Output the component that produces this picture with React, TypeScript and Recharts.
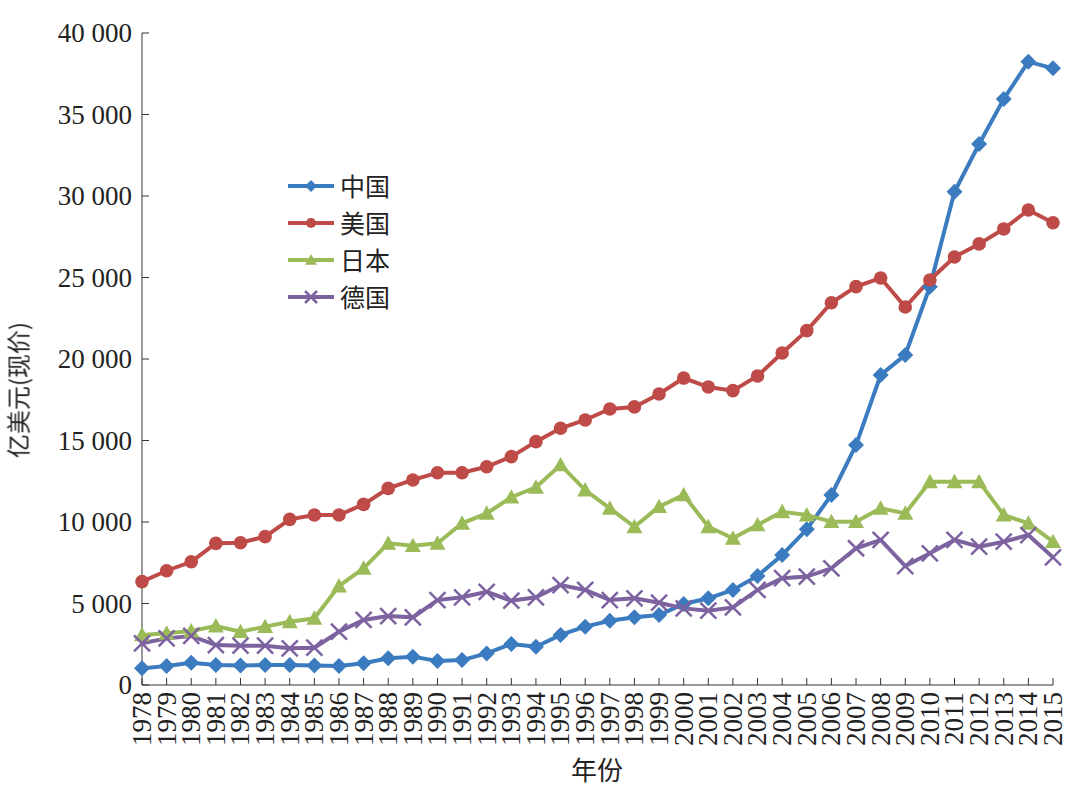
import { LineChart, Line, XAxis, YAxis } from 'recharts'

const years = Array.from({ length: 38 }, (_, i) => String(1978 + i))

const china = [1020, 1170, 1370, 1230, 1190, 1230, 1230, 1190, 1170, 1330,
  1640, 1740, 1470, 1530, 1940, 2520, 2350, 3070, 3580, 3940,
  4150, 4290, 4970, 5320, 5830, 6690, 7980, 9550, 11660, 14720,
  19020, 20250, 24440, 30260, 33190, 35950, 38240, 37830]
const usa = [6340, 7010, 7560, 8690, 8730, 9100, 10160, 10430, 10430, 11080,
  12060, 12580, 13020, 13020, 13390, 14010, 14930, 15750, 16260, 16930,
  17060, 17850, 18830, 18280, 18060, 18960, 20370, 21740, 23450, 24440,
  24970, 23190, 24850, 26260, 27060, 27980, 29140, 28360]
const japan = [3070, 3170, 3310, 3620, 3270, 3580, 3880, 4090, 6070, 7160,
  8690, 8550, 8690, 9920, 10530, 11520, 12130, 13500, 11960, 10840,
  9710, 10940, 11660, 9710, 9000, 9820, 10630, 10430, 10020, 10020,
  10840, 10530, 12470, 12470, 12470, 10430, 9920, 8790]
const germany = [2560, 2860, 3010, 2450, 2410, 2410, 2250, 2290, 3270, 3990,
  4230, 4150, 5210, 5380, 5720, 5170, 5380, 6130, 5830, 5210,
  5320, 5050, 4700, 4560, 4760, 5830, 6550, 6650, 7160, 8390,
  8900, 7300, 8080, 8900, 8490, 8790, 9200, 7830]

const yTicks = [0, 5000, 10000, 15000, 20000, 25000, 30000, 35000, 40000]

const data = years.map((y, i) => ({
  year: y, cn: china[i], us: usa[i], jp: japan[i], de: germany[i],
}))

const serif = '"Liberation Serif", "Times New Roman", serif'
const cjk = '"Noto Sans CJK SC", sans-serif'

const series = [
  { key: 'cn', name: '中国', color: '#3b7bbf', shape: 'diamond' },
  { key: 'us', name: '美国', color: '#be4b48', shape: 'circle' },
  { key: 'jp', name: '日本', color: '#9bbb59', shape: 'triangle' },
  { key: 'de', name: '德国', color: '#7d62a0', shape: 'cross' },
]

function Marker({ cx, cy, shape, color, s = 8 }: any) {
  if (cx == null || cy == null) return null
  if (shape === 'diamond')
    return <polygon points={`${cx},${cy - s} ${cx + s},${cy} ${cx},${cy + s} ${cx - s},${cy}`} fill={color} />
  if (shape === 'circle') return <circle cx={cx} cy={cy} r={s * 0.85} fill={color} />
  if (shape === 'triangle')
    return <polygon points={`${cx},${cy - s} ${cx + s},${cy + s * 0.8} ${cx - s},${cy + s * 0.8}`} fill={color} />
  return (
    <g stroke={color} strokeWidth={2.5}>
      <line x1={cx - s} y1={cy - s} x2={cx + s} y2={cy + s} />
      <line x1={cx - s} y1={cy + s} x2={cx + s} y2={cy - s} />
    </g>
  )
}

function YTick({ x, y, payload }: any) {
  const label = payload.value === 0 ? '0' : payload.value.toLocaleString('en-US').replace(',', ' ')
  return (
    <g>
      <line x1={x + 10} y1={y} x2={x + 17} y2={y} stroke="#333" />
      <text x={x} y={y} dy="0.35em" textAnchor="end" fontFamily={serif} fontSize={27} fill="#222">{label}</text>
    </g>
  )
}

function XTick({ x, y, payload }: any) {
  return (
    <g>
      <line x1={x} y1={y - 7} x2={x} y2={y - 14} stroke="#333" />
      <text x={x} y={y} dy="0.33em" textAnchor="end" transform={`rotate(-90 ${x} ${y})`}
        fontFamily={serif} fontSize={27} fill="#222">{payload.value}</text>
    </g>
  )
}

function LegendBox() {
  return (
    <div style={{ position: 'absolute', left: 286, top: 167, display: 'flex', flexDirection: 'column' }}>
      {series.map(s => (
        <div key={s.key} style={{ display: 'flex', alignItems: 'center', height: 37 }}>
          <svg width={50} height={20}>
            <line x1={2} y1={10} x2={48} y2={10} stroke={s.color} strokeWidth={4} />
            <Marker cx={25} cy={10} shape={s.shape} color={s.color} s={6} />
          </svg>
          <span style={{ fontFamily: cjk, fontSize: 25, color: '#222', marginLeft: 4, lineHeight: 1 }}>{s.name}</span>
        </div>
      ))}
    </div>
  )
}

export default function App() {
  return (
    <div style={{ position: 'fixed', left: 0, top: 0, width: 1080, height: 791, background: '#fff' }}>
      <LineChart width={1080} height={791} data={data}
        margin={{ top: 33, right: 27, bottom: 36, left: 42 }}>
        <XAxis dataKey="year" interval={0} height={70} tickSize={0} tickMargin={7}
          tick={<XTick />} axisLine={{ stroke: '#333' }} tickLine={false} />
        <YAxis domain={[0, 40000]} ticks={yTicks} width={100} tickSize={0} tickMargin={10}
          tick={<YTick />} axisLine={{ stroke: '#333' }} tickLine={false} />
        {series.map(s => (
          <Line key={s.key} dataKey={s.key} name={s.name} stroke={s.color} strokeWidth={4}
            isAnimationActive={false}
            dot={(p: any) => <Marker key={`${s.key}-${p.index}`} cx={p.cx} cy={p.cy} shape={s.shape} color={s.color} />}
            activeDot={false} />
        ))}
      </LineChart>
      <LegendBox />
      <div style={{ position: 'absolute', left: 17, top: 390, transform: 'translate(-50%, -50%) rotate(-90deg)',
        fontFamily: cjk, fontSize: 24, color: '#222', whiteSpace: 'nowrap' }}>亿美元(现价)</div>
      <div style={{ position: 'absolute', left: 597, top: 768, transform: 'translate(-50%, -50%)',
        fontFamily: cjk, fontSize: 26, color: '#222', whiteSpace: 'nowrap' }}>年份</div>
    </div>
  )
}
